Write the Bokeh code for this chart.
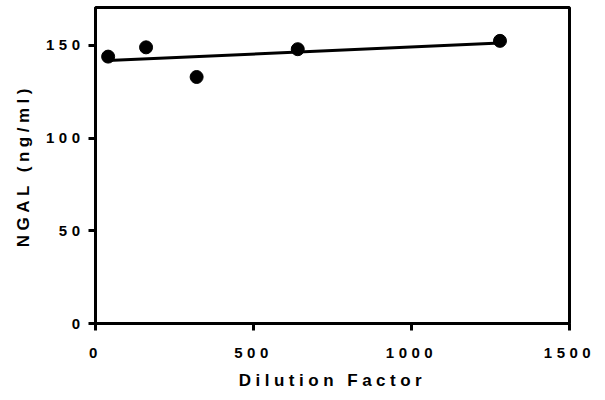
import numpy as np
from bokeh.plotting import figure
from bokeh.models import Range1d, FixedTicker, InlineStyleSheet, CustomJSTickFormatter
from bokeh.embed import file_html
from bokeh.resources import INLINE

dilution = [40, 160, 320, 640, 1280]
ngal = [144, 149, 133, 148, 152.5]
x_ticks = [0, 500, 1000, 1500]
y_ticks = [0, 50, 100, 150]

slope, intercept = np.polyfit(dilution, ngal, 1)
fit_x = [min(dilution), max(dilution)]
fit_y = [slope * v + intercept for v in fit_x]

SPACING = "4.5px"

p = figure(width=597, height=392, output_backend="svg", toolbar_location=None,
           x_range=Range1d(0, 1500), y_range=Range1d(0, 170.5),
           min_border_left=95, min_border_right=28, min_border_top=7, min_border_bottom=69)
p.stylesheets = [InlineStyleSheet(css=f":host {{ letter-spacing: {SPACING}; }} text {{ letter-spacing: {SPACING}; }}")]

p.line(fit_x, fit_y, line_color="black", line_width=3)
p.scatter(dilution, ngal, size=13, color="black")

p.xgrid.visible = False
p.ygrid.visible = False
p.outline_line_color = "black"
p.outline_line_width = 3
p.outline_line_alpha = 1

# measure text with the same letter spacing that the page's CSS applies,
# so that Bokeh aligns the spaced labels correctly
spaced_fmt_code = """
const proto = CanvasRenderingContext2D.prototype;
if (!proto.__spaced) {
  const orig = proto.measureText;
  proto.measureText = function(t) { this.letterSpacing = "%s"; return orig.call(this, t); };
  proto.__spaced = true;
}
return tick.toString();
""" % SPACING

p.xaxis.ticker = FixedTicker(ticks=x_ticks)
p.yaxis.ticker = FixedTicker(ticks=y_ticks)
p.xaxis.formatter = CustomJSTickFormatter(code=spaced_fmt_code)
p.yaxis.formatter = CustomJSTickFormatter(code=spaced_fmt_code)
p.xaxis.axis_label = "Dilution Factor"
p.yaxis.axis_label = "NGAL (ng/ml)"

for ax in (p.xaxis, p.yaxis):
    ax.axis_line_width = 3
    ax.axis_line_color = "black"
    ax.major_tick_line_width = 3
    ax.major_tick_line_color = "black"
    ax.major_tick_out = 7
    ax.major_tick_in = 0
    ax.minor_tick_line_color = None
    ax.major_label_text_font = "Liberation Sans"
    ax.major_label_text_font_style = "bold"
    ax.major_label_text_font_size = "15px"
    ax.major_label_text_color = "black"
    ax.axis_label_text_font = "Liberation Sans"
    ax.axis_label_text_font_style = "bold"
    ax.axis_label_text_font_size = "17px"
    ax.axis_label_text_color = "black"

p.xaxis.major_label_standoff = 17
p.yaxis.major_label_standoff = 4
p.xaxis.axis_label_standoff = 10
p.yaxis.axis_label_standoff = 10

open("out.html", "w").write(file_html(p, INLINE))
